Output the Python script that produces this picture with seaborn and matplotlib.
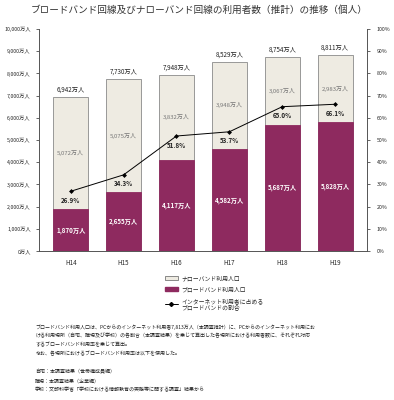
import numpy as np
import pandas as pd
import seaborn as sns
import matplotlib.pyplot as plt
from matplotlib.patches import Patch
from matplotlib.lines import Line2D
from matplotlib.ticker import FuncFormatter

years = ["H14", "H15", "H16", "H17", "H18", "H19"]
total = [6942, 7730, 7948, 8529, 8754, 8811]
broadband = [1870, 2655, 4117, 4582, 5687, 5828]
narrowband = [5072, 5075, 3832, 3948, 3067, 2983]
share = [26.9, 34.3, 51.8, 53.7, 65.0, 66.1]

title = "ブロードバンド回線及びナローバンド回線の利用者数（推計）の推移（個人）"
notes = [
    "ブロードバンド利用人口は、PCからのインターネット利用者7,813万人（本調査推計）に、PCからのインターネット利用にお",
    "ける利用場所（自宅、職場及び学校）の各割合（本調査結果）を乗じて算出した各場所における利用者数に、それぞれ対応",
    "するブロードバンド利用率を乗じて算出。",
    "なお、各場所におけるブロードバンド利用率は以下を使用した。",
    "",
    "自宅：本調査結果（世帯構成員編）",
    "職場：本調査結果（企業編）",
    "学校：文部科学省「学校における情報教育の実態等に関する調査」結果から",
]

df = pd.DataFrame({"year": years, "total": total, "broadband": broadband,
                   "narrowband": narrowband, "share": share})

sns.set_style("white")
plt.rcParams["font.family"] = ["Noto Sans CJK JP", "DejaVu Sans"]

purple = "#8E2A5F"
cream = "#EEEBE2"

fig = plt.figure(figsize=(3.94, 4.0), dpi=100)
ax = fig.add_axes([0.099, 0.3725, 0.832, 0.555])

sns.barplot(data=df, x="year", y="total", color=cream, edgecolor="#8a8a8a",
            linewidth=0.6, width=0.66, saturation=1, ax=ax)
sns.barplot(data=df, x="year", y="broadband", color=purple, edgecolor=purple,
            linewidth=0.6, width=0.66, saturation=1, ax=ax)

ax.set_ylim(0, 10000)
ax.set_xlim(-0.6, 5.6)
ax.set_yticks(np.arange(0, 10001, 1000))
ax.yaxis.set_major_formatter(FuncFormatter(lambda v, p: f"{int(v):,}万人"))
ax.set_xlabel("")
ax.set_ylabel("")
ax.tick_params(axis="y", labelsize=3.8, length=2, width=0.5, pad=4)
ax.tick_params(axis="x", labelsize=4.5, length=0, pad=6)
ax.spines["top"].set_visible(False)
for s in ["left", "bottom", "right"]:
    ax.spines[s].set_color("#555555")
    ax.spines[s].set_linewidth(0.6)

x = np.arange(len(years))
for i in range(len(years)):
    ax.text(x[i], total[i] + 150, f"{total[i]:,}万人", ha="center", va="bottom",
            fontsize=4.5, color="#222222")
    ax.text(x[i], broadband[i] + narrowband[i] / 2, f"{narrowband[i]:,}万人",
            ha="center", va="center", fontsize=4.3, color="#777777")
    ax.text(x[i], broadband[i] / 2, f"{broadband[i]:,}万人", ha="center",
            va="center", fontsize=4.5, color="white", fontweight="bold")

ax2 = ax.twinx()
sns.lineplot(x=x, y=share, color="black", linewidth=0.7, marker="D",
             markersize=2.5, markeredgewidth=0, ax=ax2)
ax2.set_ylim(0, 100)
ax2.set_yticks(np.arange(0, 101, 10))
ax2.yaxis.set_major_formatter(FuncFormatter(lambda v, p: f"{int(v)}%"))
ax2.tick_params(axis="y", labelsize=3.8, length=2, width=0.5, pad=5)
ax2.spines["top"].set_visible(False)
for s in ["left", "bottom", "right"]:
    ax2.spines[s].set_color("#555555")
    ax2.spines[s].set_linewidth(0.6)
for i in range(len(years)):
    ax2.annotate(f"{share[i]:.1f}%", (x[i], share[i]), xytext=(0, -4),
                 textcoords="offset points", ha="center", va="top",
                 fontsize=4.5, fontweight="bold", color="#222222")

fig.text(0.505, 0.975, title, ha="center", va="center", fontsize=6.9,
         color="#333333")

handles = [
    Patch(facecolor=cream, edgecolor="#777777", linewidth=0.6),
    Patch(facecolor=purple, edgecolor=purple),
    Line2D([0], [0], color="black", linewidth=0.7, marker="D", markersize=2),
]
labels = ["ナローバンド利用人口", "ブロードバンド利用人口",
          "インターネット利用者に占める\nブロードバンドの割合"]
fig.legend(handles, labels, loc="upper left", bbox_to_anchor=(0.405, 0.325),
           frameon=False, fontsize=4.2, handlelength=2.2, handleheight=0.6,
           labelspacing=1.0, handletextpad=0.6)

y0 = 0.183
for j, line in enumerate(notes):
    fig.text(0.089, y0 - j * 0.0225, line, ha="left", va="center",
             fontsize=3.6, color="#222222")

fig.savefig("out.png", dpi=100)
